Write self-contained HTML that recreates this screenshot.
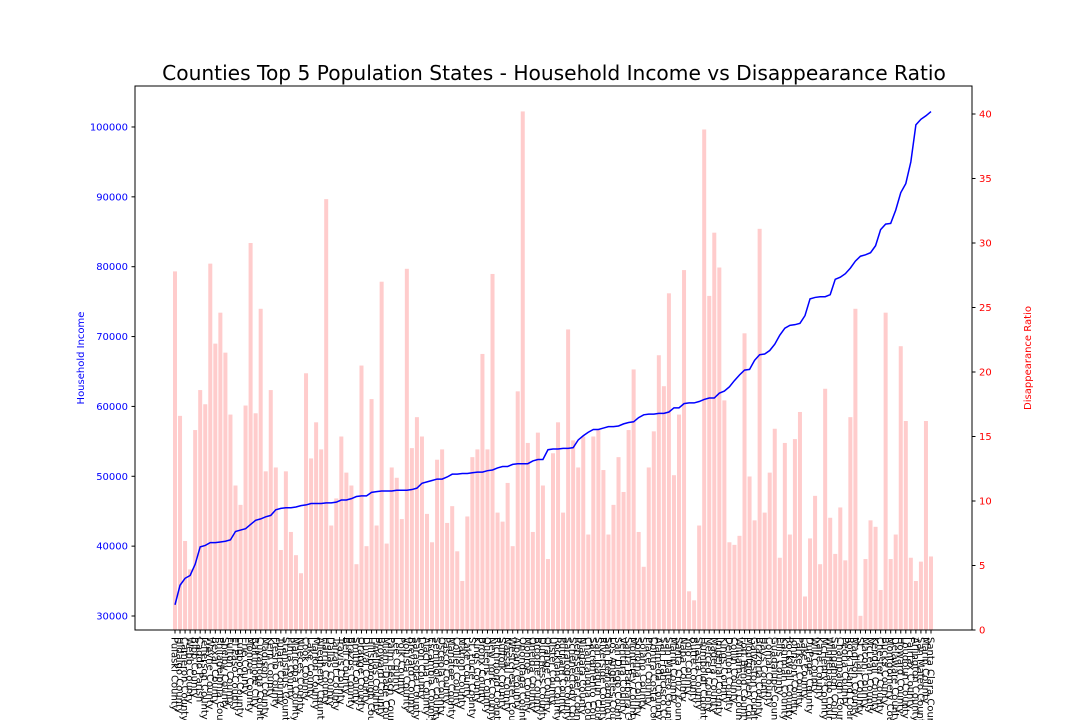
<!DOCTYPE html>
<html><head><meta charset="utf-8"><style>
body{margin:0;background:#fff;width:1080px;height:720px;overflow:hidden;font-family:"Liberation Sans",sans-serif}
svg text{font-family:"DejaVu Sans","Liberation Sans",sans-serif}
</style></head><body>
<svg id="chart" width="1080" height="720" xmlns="http://www.w3.org/2000/svg">
<text x="554" y="80" text-anchor="middle" font-size="20.2">Counties Top 5 Population States - Household Income vs Disappearance Ratio</text>
<g id="bars"></g>
<g id="line"></g>
<g id="axes"></g>
<text transform="translate(84,358) rotate(-90)" text-anchor="middle" font-size="10" fill="#0000ff">Household Income</text>
<text transform="translate(1031,358) rotate(-90)" text-anchor="middle" font-size="10" fill="#ff0000">Disappearance Ratio</text>
</svg>
<script>
const categories=["Pulaski County","Hidalgo County","Cameron County","Webb County","Bibb County","Caddo Parish","Jefferson County","Wayne County","Bexar County","Philadelphia County","Shelby County","Fulton County","El Paso County","Lubbock County","Erie County","Monroe County","Baltimore City","Cuyahoga County","Madison County","Kern County","Fresno County","Tulare County","Stanislaus County","Pima County","Maricopa County","Nueces County","Cook County","Lake County","Marion County","Allegheny County","Harris County","Dallas County","Tarrant County","Travis County","Bell County","Brazos County","Smith County","Orange County","Duval County","Hillsborough County","Pinellas County","Broward County","Miami-Dade County","Palm Beach County","Lee County","Polk County","Volusia County","Brevard County","Sarasota County","Leon County","Alachua County","Escambia County","Seminole County","Osceola County","Pasco County","Manatee County","Collier County","Marion County","Lake County","St. Lucie County","Kings County","Bronx County","Queens County","New York County","Richmond County","Suffolk County","Nassau County","Westchester County","Albany County","Onondaga County","Monroe County","Oneida County","Broome County","Dutchess County","Orange County","Ulster County","Rockland County","Putnam County","Saratoga County","Schenectady County","Rensselaer County","Niagara County","Chautauqua County","Sacramento County","San Joaquin County","Riverside County","San Bernardino County","Los Angeles County","San Diego County","Ventura County","Santa Barbara County","Monterey County","Sonoma County","Solano County","Placer County","Contra Costa County","Alameda County","San Francisco County","San Mateo County","Marin County","Santa Cruz County","Napa County","Yolo County","Butte County","Shasta County","Humboldt County","Merced County","Madera County","Imperial County","Kings County","Denton County","Collin County","Williamson County","Fort Bend County","Montgomery County","Galveston County","Brazoria County","Hays County","Comal County","Guadalupe County","Ellis County","Kaufman County","Rockwall County","Johnson County","Parker County","Lake County","DuPage County","Will County","Kane County","McHenry County","Winnebago County","Sangamon County","Champaign County","Peoria County","Rock Island County","Madison County","St. Clair County","Macon County","McLean County","Kendall County","Chester County","Bucks County","Montgomery County","Delaware County","Howard County","Loudoun County","Fairfax County","Arlington County","San Mateo County","Marin County","Santa Clara County"];
const ratio=[27.8,16.6,6.9,4.7,15.5,18.6,17.5,28.4,22.2,24.6,21.5,16.7,11.2,9.7,17.4,30.0,16.8,24.9,12.3,18.6,12.6,6.2,12.3,7.6,5.8,4.4,19.9,13.3,16.1,14.0,33.4,8.1,10.2,15.0,12.2,11.2,5.1,20.5,6.5,17.9,8.1,27.0,6.7,12.6,11.8,8.6,28.0,14.1,16.5,15.0,9.0,6.8,13.2,14.0,8.3,9.6,6.1,3.8,8.8,13.4,14.0,21.4,14.0,27.6,9.1,8.4,11.4,6.5,18.5,40.2,14.5,7.6,15.3,11.2,5.5,13.7,16.1,9.1,23.3,14.7,12.6,15.0,7.4,15.0,15.5,12.4,7.4,9.7,13.4,10.7,15.5,20.2,7.6,4.9,12.6,15.4,21.3,18.9,26.1,12.0,16.7,27.9,3.0,2.3,8.1,38.8,25.9,30.8,28.1,17.8,6.8,6.6,7.3,23.0,11.9,8.5,31.1,9.1,12.2,15.6,5.6,14.5,7.4,14.8,16.9,2.6,7.1,10.4,5.1,18.7,8.7,5.9,9.5,5.4,16.5,24.9,1.1,5.5,8.5,8.0,3.1,24.6,5.5,7.4,22.0,16.2,5.6,3.8,5.3,16.2,5.7];
const income=[31600,34400,35400,35800,37400,39900,40100,40500,40500,40600,40700,40900,42100,42300,42500,43100,43700,43900,44200,44400,45200,45400,45500,45500,45600,45800,45900,46100,46100,46100,46200,46200,46300,46600,46600,46800,47100,47200,47200,47700,47800,47900,47900,47900,48000,48000,48000,48100,48300,49000,49200,49400,49600,49600,49900,50300,50300,50400,50400,50500,50600,50600,50800,50900,51200,51400,51400,51700,51800,51800,51800,52200,52400,52400,53800,53900,53900,54000,54000,54100,55200,55800,56300,56700,56700,56900,57100,57100,57200,57500,57700,57800,58400,58800,58900,58900,59000,59000,59200,59800,59800,60400,60500,60500,60700,61000,61200,61200,61900,62200,62800,63700,64500,65200,65300,66600,67400,67500,68000,68900,70200,71200,71600,71700,71900,73000,75400,75600,75700,75700,76000,78200,78500,79000,79800,80800,81500,81700,82000,83000,85300,86100,86200,88100,90600,91900,95000,100300,101100,101600,102200];
const leftTicks=[30000,40000,50000,60000,70000,80000,90000,100000];
const rightTicks=[0,5,10,15,20,25,30,35,40];

const NS="http://www.w3.org/2000/svg";
const X0=135,X1=972,Y0=86,Y1=630;
const n=categories.length;
const step=(929-173)/150;
function xC(i){return 175+i*step;}
function yL(v){return 616-(v-30000)/10000*69.86;}
function yR(v){return 630-v*12.9;}
function mk(tag,attrs,parent){const e=document.createElementNS(NS,tag);for(const k in attrs)e.setAttribute(k,attrs[k]);parent.appendChild(e);return e;}
const bars=document.getElementById('bars'),line=document.getElementById('line'),axes=document.getElementById('axes');
for(let i=0;i<n;i++){
  const y=yR(ratio[i]);
  const r=mk('rect',{x:(xC(i)-2).toFixed(2),y:y.toFixed(2),width:4,height:(Y1-y).toFixed(2),fill:'#ffcccc'},bars);
  
  
}
let d='';
for(let i=0;i<n;i++){d+=(i?'L':'M')+xC(i).toFixed(2)+','+yL(income[i]).toFixed(2);}
const p=mk('path',{d:d,fill:'none',stroke:'#0000ff','stroke-width':1.5},line);


const fr=mk('rect',{x:X0,y:Y0,width:X1-X0,height:Y1-Y0,fill:'none',stroke:'#000','stroke-width':1},axes);


leftTicks.forEach(v=>{const y=yL(v);
  mk('line',{x1:X0-3.5,x2:X0,y1:y,y2:y,stroke:'#000'},axes);
  const t=mk('text',{x:X0-7,y:y+3.5,'text-anchor':'end','font-size':10,fill:'#0000ff'},axes);t.textContent=v;
  
  
});
rightTicks.forEach(v=>{const y=yR(v);
  mk('line',{x1:X1,x2:X1+3.5,y1:y,y2:y,stroke:'#000'},axes);
  const t=mk('text',{x:X1+7,y:y+3.5,'text-anchor':'start','font-size':10,fill:'#ff0000'},axes);t.textContent=v;
  
  
});
for(let i=0;i<n;i++){const x=xC(i);
  mk('line',{x1:x,x2:x,y1:Y1,y2:Y1+3.5,stroke:'#000'},axes);
  const t=mk('text',{transform:'translate('+(x-3.5).toFixed(2)+','+(Y1+7)+') rotate(90)','font-size':10,fill:'#000'},axes);
  t.textContent=categories[i];
  
  
}
</script>
</body></html>
